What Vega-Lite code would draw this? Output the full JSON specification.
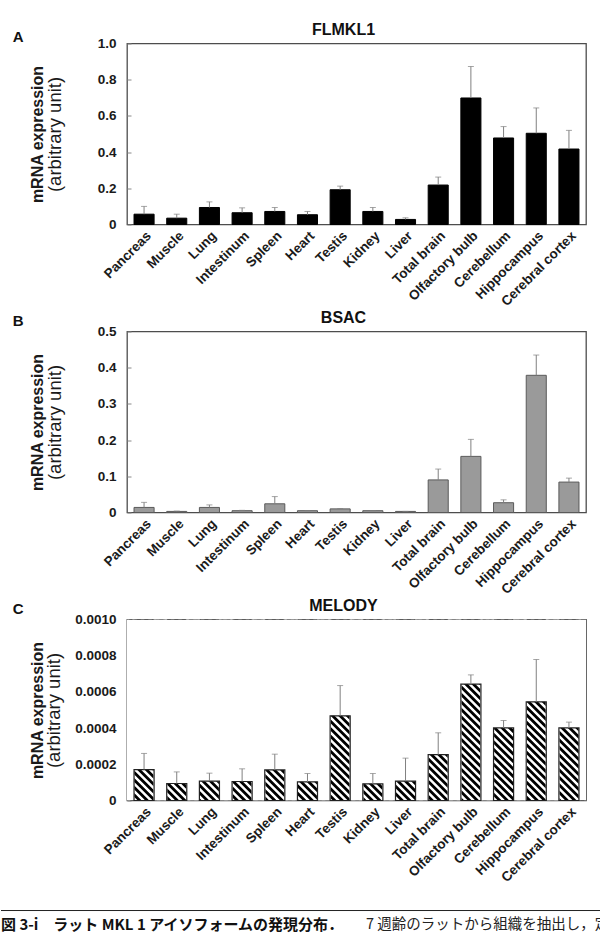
{
  "$schema": "https://vega.github.io/schema/vega-lite/v6.json",
  "padding": {"top": 20.5, "left": 0, "right": 0, "bottom": 0},
  "spacing": -1,
  "config": {
    "font": "Liberation Sans",
    "view": {"stroke": "#4d4d4d", "strokeWidth": 1.3},
    "title": {"font": "Liberation Sans", "fontSize": 16, "fontWeight": "bold", "color": "#111111", "offset": -1, "dx": -13},
    "axis": {
      "labelFont": "Liberation Sans", "labelFontSize": 13.5, "labelFontWeight": "bold", "labelColor": "#1a1a1a",
      "titleFont": "Liberation Sans", "titleColor": "#1a1a1a", "titleFontSize": 16,
      "grid": false, "domain": false
    },
    "axisX": {"ticks": false, "labelAngle": -45, "labelPadding": 4, "title": null},
    "axisY": {"tickSize": -4, "tickColor": "#888888", "labelPadding": 15}
  },
  "datasets": {
    "expression": [
      {"gene": "FLMKL1", "tissue": "Pancreas", "mean": 0.057, "upper": 0.100},
      {"gene": "FLMKL1", "tissue": "Muscle", "mean": 0.035, "upper": 0.057},
      {"gene": "FLMKL1", "tissue": "Lung", "mean": 0.094, "upper": 0.125},
      {"gene": "FLMKL1", "tissue": "Intestinum", "mean": 0.065, "upper": 0.092},
      {"gene": "FLMKL1", "tissue": "Spleen", "mean": 0.072, "upper": 0.094},
      {"gene": "FLMKL1", "tissue": "Heart", "mean": 0.054, "upper": 0.072},
      {"gene": "FLMKL1", "tissue": "Testis", "mean": 0.192, "upper": 0.212},
      {"gene": "FLMKL1", "tissue": "Kidney", "mean": 0.072, "upper": 0.094},
      {"gene": "FLMKL1", "tissue": "Liver", "mean": 0.028, "upper": 0.037},
      {"gene": "FLMKL1", "tissue": "Total brain", "mean": 0.218, "upper": 0.262},
      {"gene": "FLMKL1", "tissue": "Olfactory bulb", "mean": 0.699, "upper": 0.873},
      {"gene": "FLMKL1", "tissue": "Cerebellum", "mean": 0.478, "upper": 0.541},
      {"gene": "FLMKL1", "tissue": "Hippocampus", "mean": 0.504, "upper": 0.644},
      {"gene": "FLMKL1", "tissue": "Cerebral cortex", "mean": 0.417, "upper": 0.520},
      {"gene": "BSAC", "tissue": "Pancreas", "mean": 0.014, "upper": 0.028},
      {"gene": "BSAC", "tissue": "Muscle", "mean": 0.003, "upper": 0.004},
      {"gene": "BSAC", "tissue": "Lung", "mean": 0.014, "upper": 0.021},
      {"gene": "BSAC", "tissue": "Intestinum", "mean": 0.005, "upper": 0.006},
      {"gene": "BSAC", "tissue": "Spleen", "mean": 0.024, "upper": 0.044},
      {"gene": "BSAC", "tissue": "Heart", "mean": 0.005, "upper": 0.005},
      {"gene": "BSAC", "tissue": "Testis", "mean": 0.010, "upper": 0.011},
      {"gene": "BSAC", "tissue": "Kidney", "mean": 0.005, "upper": 0.005},
      {"gene": "BSAC", "tissue": "Liver", "mean": 0.003, "upper": 0.003},
      {"gene": "BSAC", "tissue": "Total brain", "mean": 0.090, "upper": 0.120},
      {"gene": "BSAC", "tissue": "Olfactory bulb", "mean": 0.155, "upper": 0.202},
      {"gene": "BSAC", "tissue": "Cerebellum", "mean": 0.027, "upper": 0.035},
      {"gene": "BSAC", "tissue": "Hippocampus", "mean": 0.379, "upper": 0.435},
      {"gene": "BSAC", "tissue": "Cerebral cortex", "mean": 0.084, "upper": 0.095},
      {"gene": "MELODY", "tissue": "Pancreas", "mean": 0.000171, "upper": 0.000260},
      {"gene": "MELODY", "tissue": "Muscle", "mean": 0.000094, "upper": 0.000158},
      {"gene": "MELODY", "tissue": "Lung", "mean": 0.000107, "upper": 0.000151},
      {"gene": "MELODY", "tissue": "Intestinum", "mean": 0.000105, "upper": 0.000175},
      {"gene": "MELODY", "tissue": "Spleen", "mean": 0.000169, "upper": 0.000256},
      {"gene": "MELODY", "tissue": "Heart", "mean": 0.000103, "upper": 0.000149},
      {"gene": "MELODY", "tissue": "Testis", "mean": 0.000468, "upper": 0.000635},
      {"gene": "MELODY", "tissue": "Kidney", "mean": 0.000092, "upper": 0.000149},
      {"gene": "MELODY", "tissue": "Liver", "mean": 0.000107, "upper": 0.000234},
      {"gene": "MELODY", "tissue": "Total brain", "mean": 0.000254, "upper": 0.000374},
      {"gene": "MELODY", "tissue": "Olfactory bulb", "mean": 0.000643, "upper": 0.000694},
      {"gene": "MELODY", "tissue": "Cerebellum", "mean": 0.000401, "upper": 0.000442},
      {"gene": "MELODY", "tissue": "Hippocampus", "mean": 0.000545, "upper": 0.000779},
      {"gene": "MELODY", "tissue": "Cerebral cortex", "mean": 0.000401, "upper": 0.000433}
    ]
  },
  "vconcat": [
    {
      "title": {"text": "A", "orient": "left", "anchor": "end", "angle": 0, "align": "right", "baseline": "top", "offset": -1, "fontSize": 15, "frame": "bounds", "dx": 5, "dy": 9},
      "vconcat": [
        {
          "title": {"text": "FLMKL1"},
          "width": 459, "height": 181,
          "data": {"name": "expression"},
          "transform": [{"filter": "datum.gene === 'FLMKL1'"}],
          "encoding": {
            "x": {"field": "tissue", "type": "nominal", "sort": null, "scale": {"paddingInner": 0.386, "paddingOuter": 0.215}}
          },
          "layer": [
            {
              "mark": {"type": "bar", "color": "#000000", "stroke": "#000000", "strokeWidth": 1},
              "encoding": {
                "y": {"field": "mean", "type": "quantitative", "scale": {"domain": [0, 1]},
                  "axis": {"orient": "left", "title": "(arbitrary unit)", "titleFontWeight": "normal", "titleFontSize": 18.5, "titlePadding": 33,
                    "values": [0, 0.2, 0.4, 0.6, 0.8, 1], "labelExpr": "datum.value === 0 ? '0' : format(datum.value, '.1f')"}}
              }
            },
            {
              "mark": {"type": "rule", "color": "#808080", "strokeWidth": 1},
              "encoding": {
                "y": {"field": "mean", "type": "quantitative",
                  "axis": {"orient": "left", "title": "mRNA expression", "titleFontWeight": "bold", "labels": false, "ticks": false, "titlePadding": 82}},
                "y2": {"field": "upper"}
              }
            },
            {
              "mark": {"type": "tick", "color": "#808080", "size": 6, "thickness": 1},
              "encoding": {"y": {"field": "upper", "type": "quantitative", "axis": null}}
            }
          ],
          "resolve": {"axis": {"y": "independent"}}
        }
      ]
    },
    {
      "title": {"text": "B", "orient": "left", "anchor": "end", "angle": 0, "align": "right", "baseline": "top", "offset": -1, "fontSize": 15, "frame": "bounds", "dx": 5, "dy": 5.5},
      "vconcat": [
        {
          "title": {"text": "BSAC"},
          "width": 459, "height": 181,
          "data": {"name": "expression"},
          "transform": [{"filter": "datum.gene === 'BSAC'"}],
          "encoding": {
            "x": {"field": "tissue", "type": "nominal", "sort": null, "scale": {"paddingInner": 0.386, "paddingOuter": 0.215}}
          },
          "layer": [
            {
              "mark": {"type": "bar", "color": "#9a9a9a", "stroke": "#5a5a5a", "strokeWidth": 1},
              "encoding": {
                "y": {"field": "mean", "type": "quantitative", "scale": {"domain": [0, 0.5]},
                  "axis": {"orient": "left", "title": "(arbitrary unit)", "titleFontWeight": "normal", "titleFontSize": 18.5, "titlePadding": 33,
                    "values": [0, 0.1, 0.2, 0.3, 0.4, 0.5], "labelExpr": "datum.value === 0 ? '0' : format(datum.value, '.1f')"}}
              }
            },
            {
              "mark": {"type": "rule", "color": "#808080", "strokeWidth": 1},
              "encoding": {
                "y": {"field": "mean", "type": "quantitative",
                  "axis": {"orient": "left", "title": "mRNA expression", "titleFontWeight": "bold", "labels": false, "ticks": false, "titlePadding": 82}},
                "y2": {"field": "upper"}
              }
            },
            {
              "mark": {"type": "tick", "color": "#808080", "size": 6, "thickness": 1},
              "encoding": {"y": {"field": "upper", "type": "quantitative", "axis": null}}
            }
          ],
          "resolve": {"axis": {"y": "independent"}}
        }
      ]
    },
    {
      "title": {"text": "C", "orient": "left", "anchor": "end", "angle": 0, "align": "right", "baseline": "top", "offset": -1, "fontSize": 15, "frame": "bounds", "dx": 5, "dy": 5.5},
      "vconcat": [
        {
          "title": {"text": "MELODY"},
          "width": 459, "height": 181,
          "data": {"name": "expression"},
          "transform": [{"filter": "datum.gene === 'MELODY'"}],
          "encoding": {
            "x": {"field": "tissue", "type": "nominal", "sort": null,
              "scale": {"domain": ["Pancreas", "Muscle", "Lung", "Intestinum", "Spleen", "Heart", "Testis", "Kidney", "Liver", "Total brain", "Olfactory bulb", "Cerebellum", "Hippocampus", "Cerebral cortex"],
                "paddingInner": 0.386, "paddingOuter": 0.215}}
          },
          "layer": [
            {
              "transform": [{"filter": "datum.tissue === 'Kidney'"}],
              "mark": {"type": "point", "shape": "M-1.8,-0.4l0.8,0.8m-0.76875,-0.8l0.8,0.8m-0.76875,-0.8l0.8,0.8m-0.76875,-0.8l0.8,0.8m-0.76875,-0.8l0.8,0.8m-0.76875,-0.8l0.8,0.8m-0.76875,-0.8l0.8,0.8m-0.76875,-0.8l0.8,0.8m-0.76875,-0.8l0.8,0.8m-0.76875,-0.8l0.8,0.8m-0.76875,-0.8l0.8,0.8m-0.76875,-0.8l0.8,0.8m-0.76875,-0.8l0.8,0.8m-0.76875,-0.8l0.8,0.8m-0.76875,-0.8l0.8,0.8m-0.76875,-0.8l0.8,0.8m-0.76875,-0.8l0.8,0.8m-0.76875,-0.8l0.8,0.8m-0.76875,-0.8l0.8,0.8m-0.76875,-0.8l0.8,0.8m-0.76875,-0.8l0.8,0.8m-0.76875,-0.8l0.8,0.8m-0.76875,-0.8l0.8,0.8m-0.76875,-0.8l0.8,0.8m-0.76875,-0.8l0.8,0.8m-0.76875,-0.8l0.8,0.8m-0.76875,-0.8l0.8,0.8m-0.76875,-0.8l0.8,0.8m-0.76875,-0.8l0.8,0.8m-0.76875,-0.8l0.8,0.8m-0.76875,-0.8l0.8,0.8m-0.76875,-0.8l0.8,0.8m-0.76875,-0.8l0.8,0.8m-0.76875,-0.8l0.8,0.8m-0.76875,-0.8l0.8,0.8m-0.76875,-0.8l0.8,0.8m-0.76875,-0.8l0.8,0.8m-0.76875,-0.8l0.8,0.8m-0.76875,-0.8l0.8,0.8m-0.76875,-0.8l0.8,0.8m-0.76875,-0.8l0.8,0.8m-0.76875,-0.8l0.8,0.8m-0.76875,-0.8l0.8,0.8m-0.76875,-0.8l0.8,0.8m-0.76875,-0.8l0.8,0.8m-0.76875,-0.8l0.8,0.8m-0.76875,-0.8l0.8,0.8m-0.76875,-0.8l0.8,0.8m-0.76875,-0.8l0.8,0.8m-0.76875,-0.8l0.8,0.8m-0.76875,-0.8l0.8,0.8m-0.76875,-0.8l0.8,0.8m-0.76875,-0.8l0.8,0.8m-0.76875,-0.8l0.8,0.8m-0.76875,-0.8l0.8,0.8m-0.76875,-0.8l0.8,0.8m-0.76875,-0.8l0.8,0.8m-0.76875,-0.8l0.8,0.8m-0.76875,-0.8l0.8,0.8m-0.76875,-0.8l0.8,0.8m-0.76875,-0.8l0.8,0.8m-0.76875,-0.8l0.8,0.8m-0.76875,-0.8l0.8,0.8m-0.76875,-0.8l0.8,0.8m-0.76875,-0.8l0.8,0.8m-0.76875,-0.8l0.8,0.8m-0.76875,-0.8l0.8,0.8m-0.76875,-0.8l0.8,0.8m-0.76875,-0.8l0.8,0.8m-0.76875,-0.8l0.8,0.8m-0.76875,-0.8l0.8,0.8m-0.76875,-0.8l0.8,0.8m-0.76875,-0.8l0.8,0.8m-0.76875,-0.8l0.8,0.8m-0.76875,-0.8l0.8,0.8m-0.76875,-0.8l0.8,0.8m-0.76875,-0.8l0.8,0.8m-0.76875,-0.8l0.8,0.8m-0.76875,-0.8l0.8,0.8m-0.76875,-0.8l0.8,0.8m-0.76875,-0.8l0.8,0.8m-0.76875,-0.8l0.8,0.8m-0.76875,-0.8l0.8,0.8m-0.76875,-0.8l0.8,0.8m-0.76875,-0.8l0.8,0.8m-0.76875,-0.8l0.8,0.8m-0.76875,-0.8",
                "size": 230400, "filled": false, "stroke": "#000000", "strokeWidth": 2.8, "opacity": 1, "clip": true},
              "encoding": {
                "x": {"field": "tissue", "type": "nominal", "bandPosition": 0},
                "y": {"datum": 0.0005, "type": "quantitative", "axis": null}
              }
            },
            {
              "mark": {"type": "rule", "color": "#ffffff", "strokeWidth": 24, "clip": true},
              "encoding": {
                "y": {"field": "mean", "type": "quantitative", "axis": null},
                "y2": {"datum": 0.001}
              }
            },
            {
              "mark": {"type": "rule", "color": "#ffffff", "strokeWidth": 13.5, "clip": true},
              "encoding": {"x": {"field": "tissue", "type": "nominal", "bandPosition": -0.32}}
            },
            {
              "mark": {"type": "rule", "color": "#ffffff", "strokeWidth": 13.5, "clip": true},
              "encoding": {"x": {"field": "tissue", "type": "nominal", "bandPosition": 1.32}}
            },
            {
              "mark": {"type": "bar", "filled": false, "stroke": "#222222", "strokeWidth": 1.2},
              "encoding": {
                "y": {"field": "mean", "type": "quantitative", "scale": {"domain": [0, 0.001]},
                  "axis": {"orient": "left", "title": "(arbitrary unit)", "titleFontWeight": "normal", "titleFontSize": 18.5, "titlePadding": 11,
                    "values": [0, 0.0002, 0.0004, 0.0006, 0.0008, 0.001], "labelExpr": "datum.value === 0 ? '0' : format(datum.value, '.4f')"}}
              }
            },
            {
              "mark": {"type": "rule", "color": "#808080", "strokeWidth": 1},
              "encoding": {
                "y": {"field": "mean", "type": "quantitative",
                  "axis": {"orient": "left", "title": "mRNA expression", "titleFontWeight": "bold", "labels": false, "ticks": false, "titlePadding": 82}},
                "y2": {"field": "upper"}
              }
            },
            {
              "mark": {"type": "tick", "color": "#808080", "size": 6, "thickness": 1},
              "encoding": {"y": {"field": "upper", "type": "quantitative", "axis": null}}
            }
          ],
          "resolve": {"axis": {"y": "independent"}}
        }
      ]
    },
    {
      "width": 474, "height": 45,
      "view": {"stroke": null},
      "data": {"values": [{"lead": "図 3-i　ラット MKL 1 アイソフォームの発現分布．", "rest": "7 週齢のラットから組織を抽出し，定"}]},
      "layer": [
        {
          "mark": {"type": "rule", "color": "#222222", "strokeWidth": 1},
          "encoding": {
            "x": {"datum": -0.26582, "type": "quantitative", "scale": {"domain": [0, 1]}, "axis": null},
            "x2": {"datum": 1},
            "y": {"datum": 0.444, "type": "quantitative", "scale": {"domain": [0, 1]}, "axis": null}
          }
        },
        {
          "mark": {"type": "text", "align": "left", "baseline": "middle", "font": "Noto Sans CJK JP", "fontWeight": "bold", "fontSize": 15, "color": "#111111"},
          "encoding": {
            "x": {"datum": -0.26582, "type": "quantitative"},
            "y": {"datum": 0.133, "type": "quantitative"},
            "text": {"field": "lead"}
          }
        },
        {
          "mark": {"type": "text", "align": "left", "baseline": "middle", "font": "Noto Sans CJK JP", "fontWeight": "normal", "fontSize": 14.5, "color": "#222222"},
          "encoding": {
            "x": {"datum": 0.5042, "type": "quantitative"},
            "y": {"datum": 0.133, "type": "quantitative"},
            "text": {"field": "rest"}
          }
        }
      ]
    }
  ]
}
